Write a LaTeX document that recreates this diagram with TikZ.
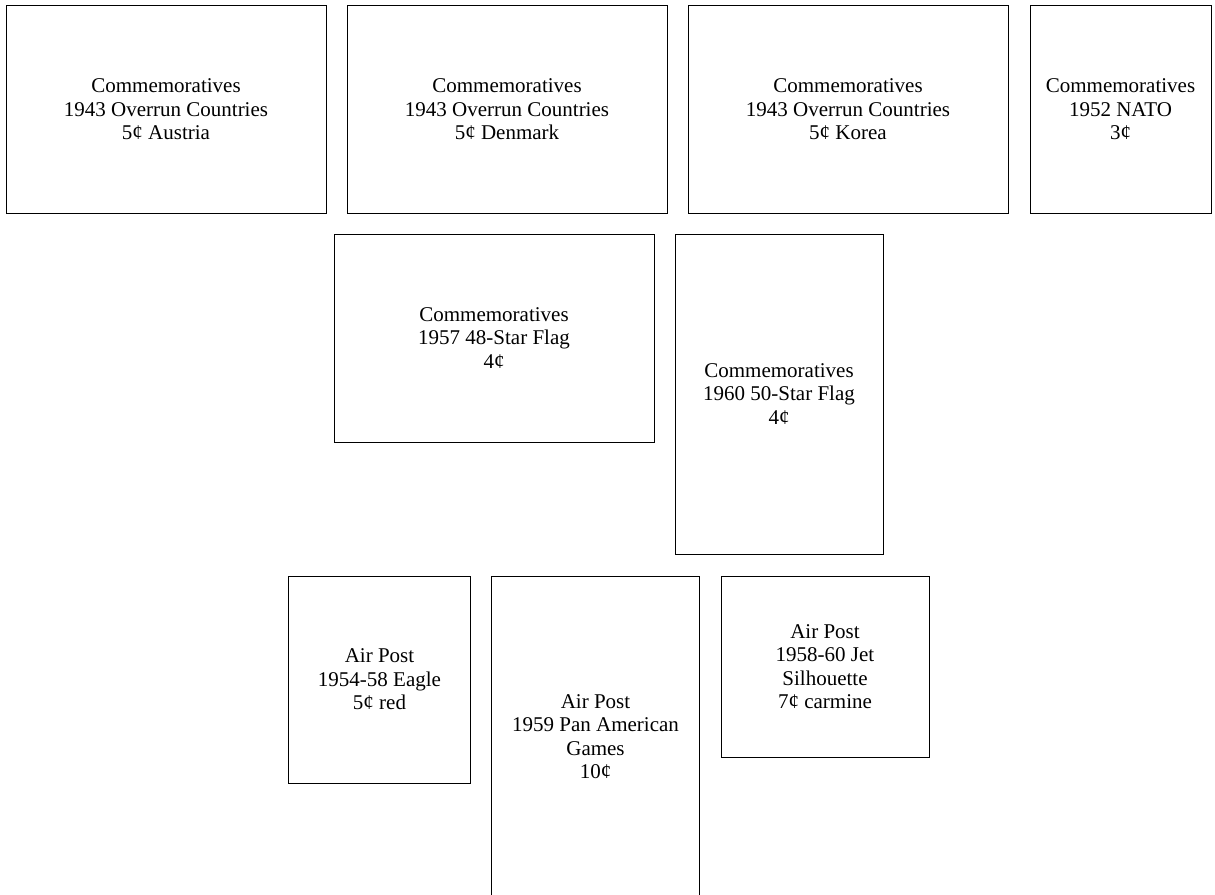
\documentclass[tikz,border=0pt]{standalone}
\usepackage{fontspec}
\setmainfont{Liberation Serif}
\begin{document}
\begin{tikzpicture}[x=1pt,y=-1pt,
  stamp/.style={draw=black, line width=0.9pt, align=center, inner sep=0pt,
    font=\fontsize{21}{23.4}\selectfont},
  land/.style={stamp, minimum width=320pt, minimum height=208pt},
  port/.style={stamp, minimum width=208pt, minimum height=320pt}]
\useasboundingbox (0,0) rectangle (1215,894);
\node[land] (austria) at (166,109.5) {Commemoratives\\1943 Overrun Countries\\5¢ Austria};
\node[land] (denmark) at (507,109.5) {Commemoratives\\1943 Overrun Countries\\5¢ Denmark};
\node[land] (korea) at (848,109.5) {Commemoratives\\1943 Overrun Countries\\5¢ Korea};
\node[stamp, minimum width=181pt, minimum height=208pt] (nato) at (1120.5,109.5) {Commemoratives\\1952 NATO\\3¢};
\node[land] (flag48) at (494,338) {Commemoratives\\1957 48-Star Flag\\4¢};
\node[port] (flag50) at (779,394) {Commemoratives\\1960 50-Star Flag\\4¢};
\node[stamp, minimum width=182pt, minimum height=207pt] (eagle) at (379.5,679.5) {Air Post\\1954-58 Eagle\\5¢ red};
\node[port, minimum height=321pt] (panam) at (595.5,736.5) {Air Post\\1959 Pan American\\Games\\10¢};
\node[stamp, minimum width=208pt, minimum height=181pt] (jet) at (825,666.5) {Air Post\\1958-60 Jet\\Silhouette\\7¢ carmine};
\end{tikzpicture}
\end{document}
